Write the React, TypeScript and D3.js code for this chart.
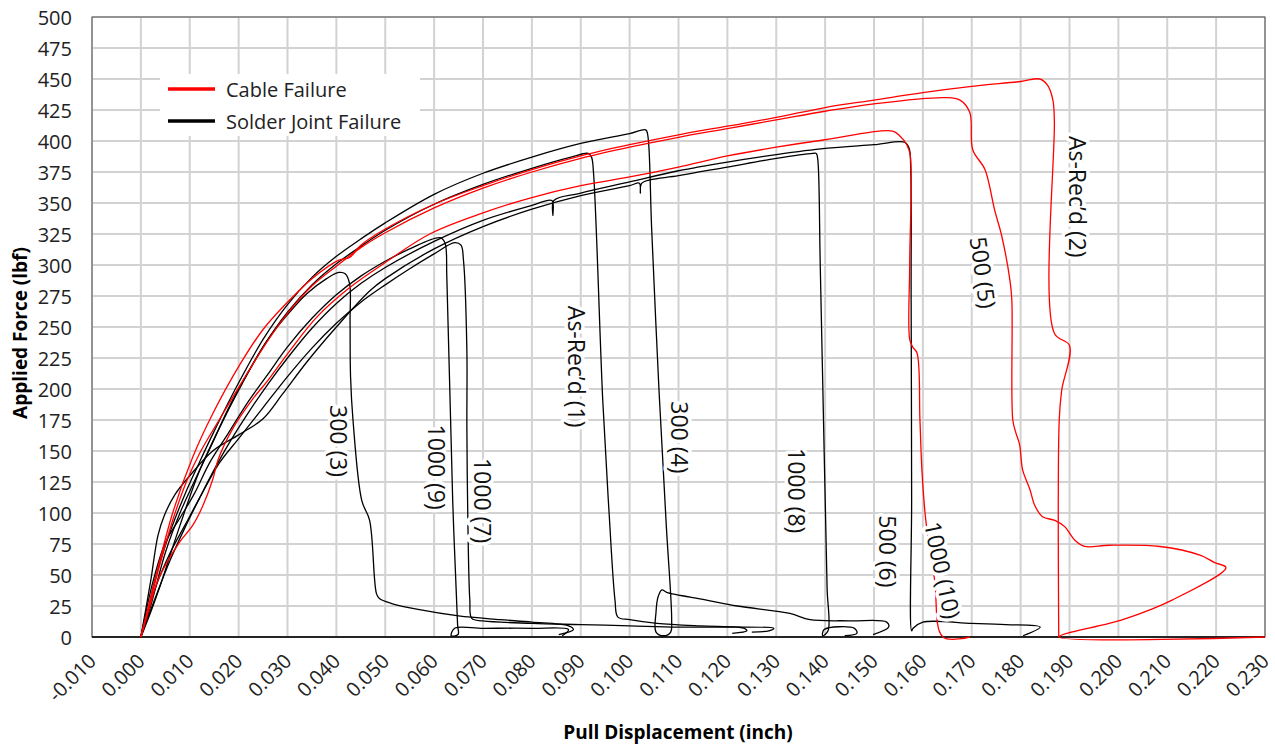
import React from 'react';
import * as d3 from 'd3';

// tick labels
const xTickLabels = ['-0.010', '0.000', '0.010', '0.020', '0.030', '0.040', '0.050', '0.060', '0.070', '0.080', '0.090', '0.100',
  '0.110', '0.120', '0.130', '0.140', '0.150', '0.160', '0.170', '0.180', '0.190', '0.200', '0.210', '0.220', '0.230'];
const yTickValues = [0, 25, 50, 75, 100, 125, 150, 175, 200, 225, 250, 275, 300, 325, 350, 375, 400, 425, 450, 475, 500];

// [displacement (inch), force (lbf)]
const asRecd1: [number, number][] = [[0, 0], [0.002, 20], [0.004, 42], [0.008, 90], [0.012, 134], [0.016, 168], [0.02, 199], [0.025, 234],
  [0.03, 262], [0.035, 284], [0.04, 301], [0.045, 315], [0.05, 328], [0.06, 349], [0.07, 365], [0.08, 378], [0.088, 387], [0.0915, 390],
  [0.0922, 387], [0.0926, 375], [0.0945, 191], [0.0958, 100], [0.097, 30], [0.0976, 16], [0.1, 14], [0.1056, 11], [0.1144, 9],
  [0.122, 8], [0.1235, 7], [0.124, 5], [0.121, 3]];

const asRecd2: [number, number][] = [[0, 0], [0.0025, 40], [0.0065, 100], [0.0106, 145], [0.0147, 180], [0.0203, 220], [0.025, 248],
  [0.03, 270], [0.035, 289], [0.0405, 304], [0.0427, 306], [0.045, 316], [0.05, 329], [0.06, 349], [0.07, 364], [0.08, 377], [0.09, 388],
  [0.1, 397], [0.11, 405], [0.12, 412], [0.13, 419], [0.14, 427], [0.15, 433], [0.16, 439], [0.17, 444], [0.18, 448], [0.1839, 450],
  [0.1855, 445], [0.1866, 433], [0.1869, 417], [0.1869, 245], [0.19, 235], [0.1884, 199], [0.1879, 175], [0.1878, 0]];

const s300n3: [number, number][] = [[0, 0], [0.002, 25], [0.005, 68], [0.008, 100], [0.011, 126], [0.014, 151], [0.018, 185], [0.022, 214],
  [0.026, 240], [0.03, 260], [0.034, 277], [0.038, 289], [0.0405, 294], [0.0418, 293], [0.0427, 285], [0.0428, 255], [0.0429, 210],
  [0.0434, 175], [0.0452, 110], [0.0468, 94], [0.0482, 35], [0.0488, 31], [0.0513, 27], [0.057, 22], [0.065, 17], [0.0735, 14],
  [0.08, 12], [0.0875, 9], [0.0885, 6], [0.0855, 2]];

const s300n4: [number, number][] = [[0, 0], [0.0015, 22], [0.003, 48], [0.006, 85], [0.009, 115], [0.012, 141], [0.015, 166], [0.02, 205],
  [0.025, 240], [0.03, 268], [0.035, 290], [0.04, 307], [0.045, 321], [0.05, 334], [0.06, 357], [0.07, 374], [0.08, 387], [0.09, 398],
  [0.1, 406], [0.1033, 409], [0.1037, 405], [0.1045, 330], [0.106, 200], [0.1075, 90], [0.1086, 14], [0.1084, 4], [0.107, 1],
  [0.1054, 4], [0.1054, 20], [0.1058, 32], [0.1066, 38], [0.1076, 36], [0.1155, 30], [0.122, 25], [0.1328, 19], [0.1369, 14],
  [0.145, 13], [0.1526, 12], [0.153, 8], [0.1498, 2]];

const s500n5: [number, number][] = [[0, 0], [0.002, 30], [0.004, 60], [0.0065, 94], [0.0094, 126], [0.012, 148], [0.016, 175], [0.0209, 207],
  [0.0258, 238], [0.03, 261], [0.035, 283], [0.04, 299], [0.045, 314], [0.05, 326], [0.06, 346], [0.07, 362], [0.08, 375], [0.09, 386],
  [0.1, 395], [0.11, 403], [0.12, 410], [0.13, 417], [0.14, 424], [0.15, 430], [0.1645, 435], [0.1676, 433], [0.1696, 423],
  [0.1702, 393], [0.1727, 377], [0.1747, 344], [0.1761, 324], [0.1778, 288], [0.1782, 272], [0.1784, 175], [0.179, 165],
  [0.1798, 155], [0.1804, 135], [0.1819, 119], [0.1829, 106], [0.1845, 97], [0.187, 94], [0.189, 89], [0.1911, 78], [0.1931, 73],
  [0.1982, 74], [0.2085, 73], [0.2167, 66], [0.2197, 60], [0.222, 56], [0.2111, 30], [0.2009, 14], [0.1878, 0], [0.23, 0]];

const s500n6: [number, number][] = [[0, 0], [0.003, 32], [0.006, 62], [0.009, 88], [0.012, 112], [0.015, 135], [0.018, 156], [0.022, 181],
  [0.026, 204], [0.03, 225], [0.035, 249], [0.04, 269], [0.045, 285], [0.05, 298], [0.06, 319], [0.07, 336], [0.08, 348], [0.0841, 352],
  [0.0843, 340], [0.0845, 352], [0.09, 358], [0.1, 367], [0.11, 376], [0.12, 383], [0.13, 389], [0.14, 394], [0.15, 397], [0.1563, 399],
  [0.1572, 394], [0.1575, 380], [0.1576, 272], [0.1577, 110], [0.1577, 5], [0.158, 7], [0.16, 12], [0.17, 11], [0.177, 10],
  [0.184, 8], [0.1805, 1]];

const s1000n7: [number, number][] = [[0, 0], [0.003, 40], [0.006, 68], [0.009, 90], [0.012, 112], [0.016, 140], [0.02, 160], [0.025, 185],
  [0.03, 210], [0.035, 233], [0.04, 253], [0.045, 270], [0.05, 284], [0.055, 297], [0.06, 309], [0.0642, 318], [0.0655, 316],
  [0.066, 304], [0.0667, 231], [0.0667, 170], [0.0669, 94], [0.0673, 30], [0.0677, 15], [0.07, 13], [0.08, 11], [0.09, 10],
  [0.1, 9], [0.11, 8], [0.12, 8], [0.1295, 7], [0.1285, 5], [0.125, 4]];

const s1000n8: [number, number][] = [[0, 0], [0.002, 45], [0.0035, 82], [0.0048, 98], [0.007, 115], [0.01, 130], [0.0147, 150], [0.02, 163],
  [0.025, 176], [0.029, 196], [0.034, 222], [0.04, 250], [0.0468, 279], [0.05, 289], [0.06, 313], [0.07, 331], [0.08, 345], [0.09, 356],
  [0.1, 364], [0.102, 366], [0.1022, 358], [0.1025, 366], [0.11, 372], [0.12, 379], [0.13, 386], [0.1375, 390], [0.1382, 390],
  [0.1385, 385], [0.139, 300], [0.1398, 150], [0.1404, 40], [0.1406, 5], [0.1395, 1], [0.1398, 6], [0.146, 7], [0.1465, 3], [0.144, 1]];

const s1000n9: [number, number][] = [[0, 0], [0.0025, 45], [0.005, 76], [0.008, 96], [0.011, 116], [0.014, 140], [0.018, 165], [0.022, 190],
  [0.026, 212], [0.03, 234], [0.035, 257], [0.04, 276], [0.045, 291], [0.05, 303], [0.055, 313], [0.0612, 322], [0.0622, 318],
  [0.0626, 290], [0.0638, 110], [0.0648, 10], [0.0649, 2], [0.0635, 1], [0.0642, 7], [0.07, 7], [0.08, 7], [0.0875, 6], [0.0862, 1]];

const s1000n10: [number, number][] = [[0, 0], [0.0018, 24], [0.0033, 44], [0.0053, 60], [0.008, 77], [0.0106, 90], [0.0127, 106],
  [0.0147, 127], [0.0158, 143], [0.0188, 168], [0.0229, 192], [0.026, 207], [0.0305, 231], [0.036, 258], [0.0428, 282], [0.05, 302],
  [0.0591, 325], [0.07, 342], [0.0796, 354], [0.09, 364], [0.1, 371], [0.11, 379], [0.12, 388], [0.13, 395], [0.14, 401], [0.1538, 408],
  [0.1553, 404], [0.1567, 397], [0.1574, 389], [0.1573, 300], [0.1573, 240], [0.1579, 234], [0.1588, 229], [0.1594, 175],
  [0.1598, 135], [0.1606, 94], [0.1624, 46], [0.1641, 0], [0.1696, 0]];

// curve labels: text, anchor point in data units, rotation
const curves = [
  { pts: s1000n7, color: '#000', label: '1000 (7)', lx: 0.0700, ly: 110, rot: 90 },
  { pts: s1000n9, color: '#000', label: '1000 (9)', lx: 0.0606, ly: 137, rot: 90 },
  { pts: s300n3, color: '#000', label: '300 (3)', lx: 0.0406, ly: 158, rot: 90 },
  { pts: asRecd1, color: '#000', label: 'As-Rec\u2019d (1)', lx: 0.0892, ly: 218, rot: 90 },
  { pts: s300n4, color: '#000', label: '300 (4)', lx: 0.1104, ly: 161, rot: 90 },
  { pts: s1000n8, color: '#000', label: '1000 (8)', lx: 0.1343, ly: 118, rot: 90 },
  { pts: s500n6, color: '#000', label: '500 (6)', lx: 0.1528, ly: 69, rot: 90 },
  { pts: s1000n10, color: '#ff0000', label: '1000 (10)', lx: 0.1641, ly: 54, rot: 78 },
  { pts: s500n5, color: '#ff0000', label: '500 (5)', lx: 0.1724, ly: 294, rot: 82 },
  { pts: asRecd2, color: '#ff0000', label: 'As-Rec\u2019d (2)', lx: 0.1917, ly: 355, rot: 90 },
];

const legendItems = [
  { name: 'Cable Failure', color: '#ff0000' },
  { name: 'Solder Joint Failure', color: '#000' },
];

export default function App() {
  const x = d3.scaleLinear().domain([-0.01, 0.23]).range([92, 1265]);
  const y = d3.scaleLinear().domain([0, 500]).range([637, 17]);
  const line = d3.line<[number, number]>()
    .x((d) => x(d[0]))
    .y((d) => y(d[1]))
    .curve(d3.curveCatmullRom.alpha(0.5));
  const xTicks = xTickLabels.map((t) => ({ t, v: parseFloat(t) }));
  const font = "'Open Sans', sans-serif";

  return (
    <svg width={1275} height={746} style={{ position: 'absolute', left: 0, top: 0 }} fontFamily={font}>
      <rect width={1275} height={746} fill="#fff" />
      {/* grid */}
      {xTicks.map((d) => (
        <line key={'gx' + d.t} x1={x(d.v)} x2={x(d.v)} y1={y(500)} y2={y(0)} stroke="#d2d2d2" strokeWidth={2} />
      ))}
      {yTickValues.map((v) => (
        <line key={'gy' + v} x1={x(-0.01)} x2={x(0.23)} y1={y(v)} y2={y(v)} stroke="#d2d2d2" strokeWidth={2} />
      ))}
      <rect x={x(-0.01)} y={y(500)} width={x(0.23) - x(-0.01)} height={y(0) - y(500)} fill="none" stroke="#555" strokeWidth={1} />
      <line x1={x(-0.01)} x2={x(0.23)} y1={y(0)} y2={y(0)} stroke="#000" strokeWidth={1.5} />

      {/* y tick labels */}
      {yTickValues.map((v) => (
        <text key={'ty' + v} x={72} y={y(v)} textAnchor="end" dominantBaseline="central" fontSize={20} fill="#222">{v}</text>
      ))}
      {/* x tick labels */}
      {xTicks.map((d) => (
        <text key={'tx' + d.t} transform={`translate(${x(d.v)},${657}) rotate(-45)`} textAnchor="end"
          dominantBaseline="central" fontSize={20} fill="#222">{d.t}</text>
      ))}

      {/* curves */}
      {curves.map((c) => (
        <path key={c.label} d={line(c.pts) || ''} fill="none" stroke={c.color} strokeWidth={1.3} strokeLinejoin="round" />
      ))}

      {/* curve labels */}
      {curves.map((c) => (
        <text key={'l' + c.label} transform={`translate(${x(c.lx)},${y(c.ly)}) rotate(${c.rot})`} textAnchor="middle"
          dominantBaseline="central" fontSize={23} fill="#111" stroke="#fff" strokeWidth={7} paintOrder="stroke"
          strokeLinejoin="round">{c.label}</text>
      ))}

      {/* legend */}
      <rect x={160} y={74} width={260} height={62} fill="#fff" />
      {legendItems.map((d, i) => (
        <g key={d.name} transform={`translate(168,${89 + i * 32})`}>
          <line x1={0} x2={47} y1={0} y2={0} stroke={d.color} strokeWidth={3.5} />
          <text x={58} y={0} dominantBaseline="central" fontSize={20} fill="#222">{d.name}</text>
        </g>
      ))}

      {/* axis titles */}
      <text transform="translate(20,333) rotate(-90)" textAnchor="middle" dominantBaseline="central" fontSize={19}
        fontWeight="bold" fill="#000">Applied Force (lbf)</text>
      <text x={678} y={732} textAnchor="middle" dominantBaseline="central" fontSize={19} fontWeight="bold" fill="#000">
        Pull Displacement (inch)
      </text>
    </svg>
  );
}
